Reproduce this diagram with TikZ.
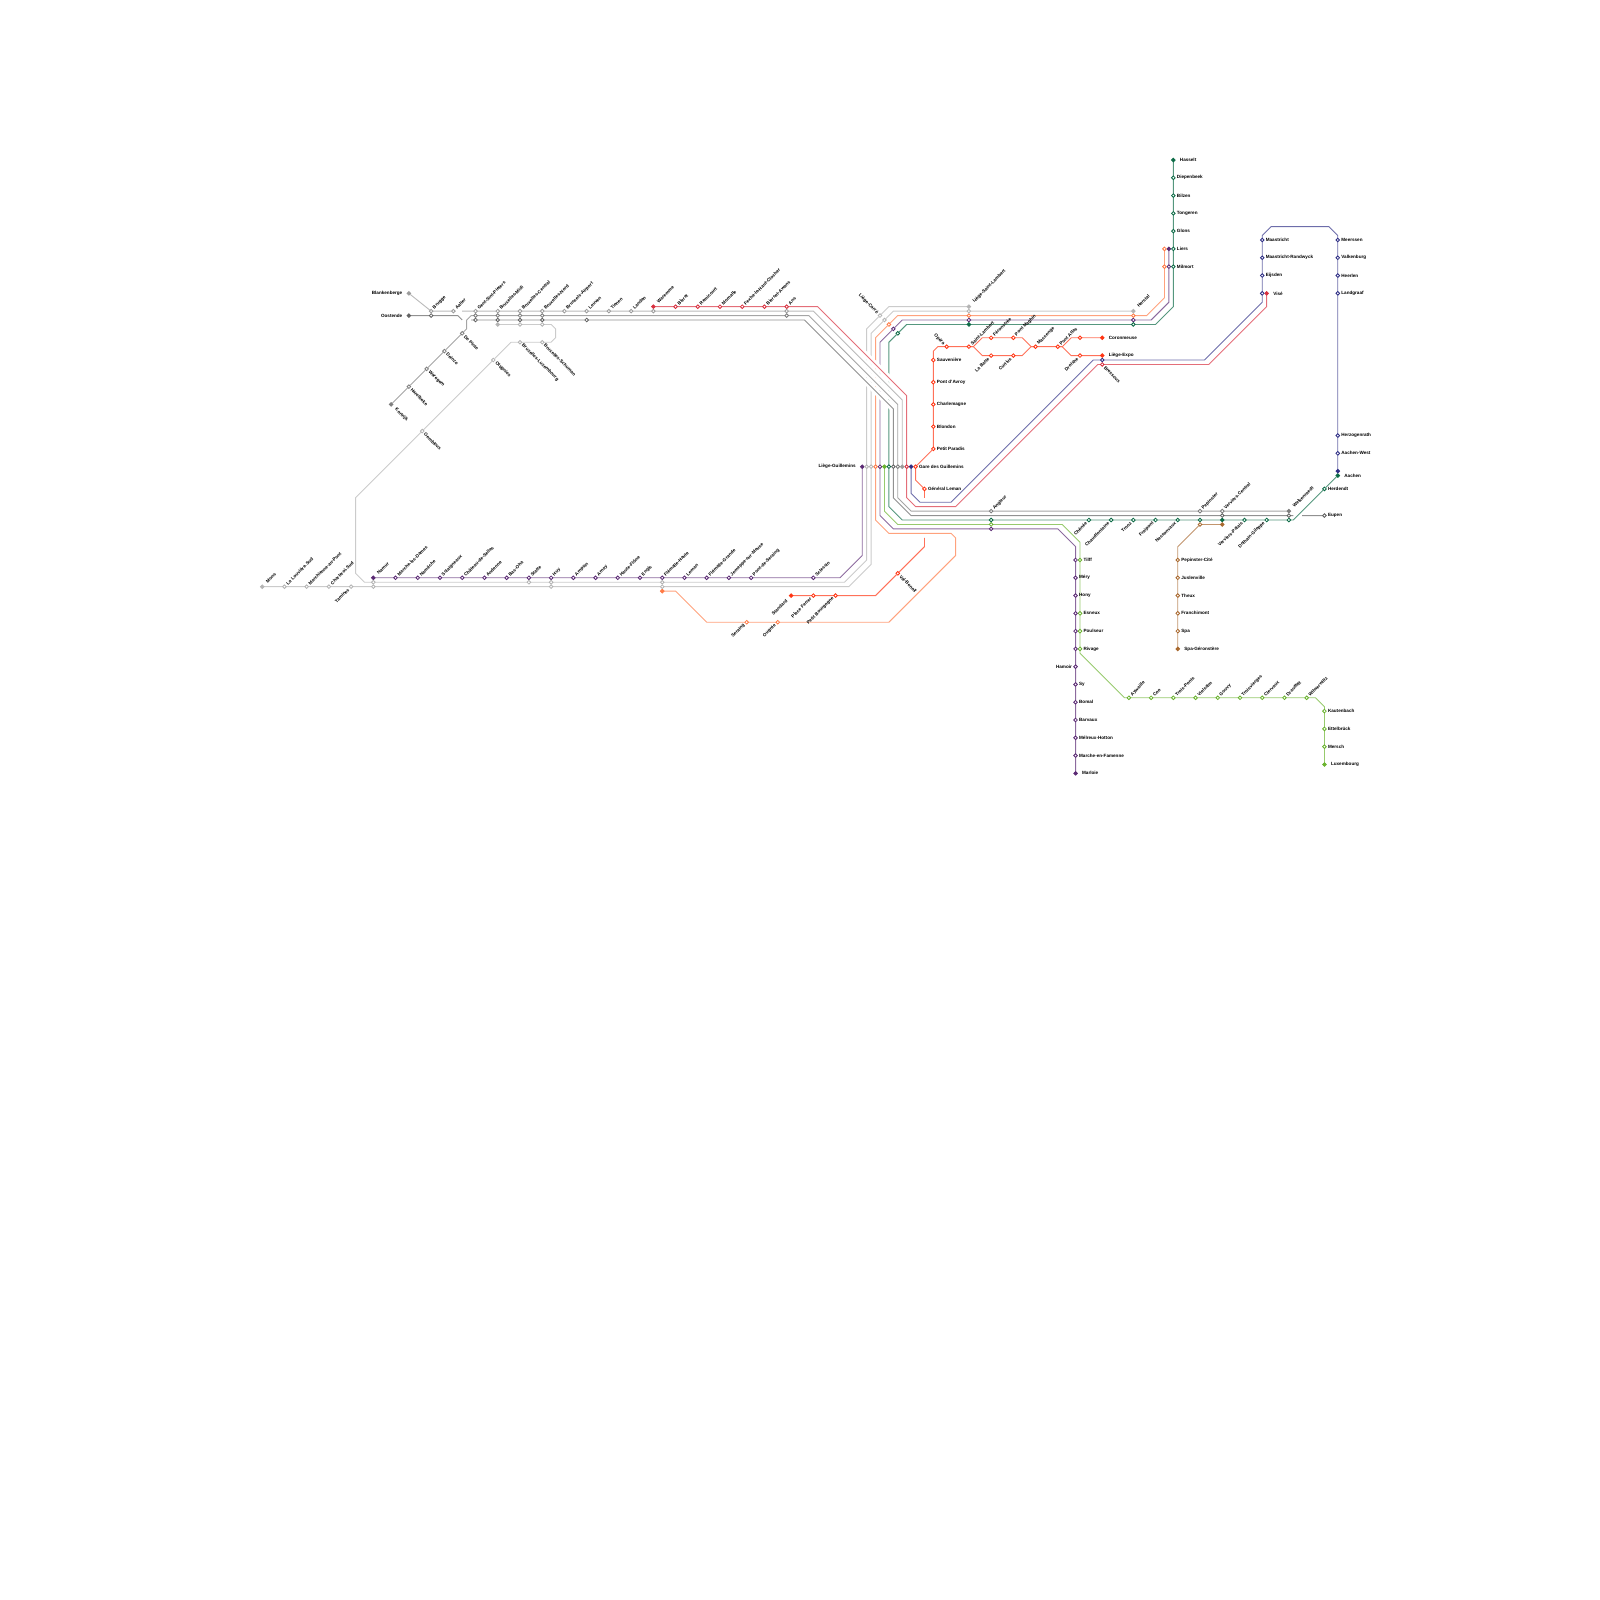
\documentclass[tikz,border=0pt]{standalone}
\usepackage{fontspec}
\setmainfont{Liberation Sans}
\usepackage{xcolor}
\usetikzlibrary{backgrounds}

\definecolor{cPurple}{HTML}{5B2A74}
\definecolor{cOrange}{HTML}{FF7A45}
\definecolor{cGreen}{HTML}{6AB32F}
\definecolor{cTeal}{HTML}{0C6B46}
\definecolor{cRed}{HTML}{D8303F}
\definecolor{cBlue}{HTML}{2F2F85}
\definecolor{cTram}{HTML}{FF3412}
\definecolor{cBrown}{HTML}{A8682E}
\definecolor{cGreyL}{HTML}{B4B4B4}
\definecolor{cGreyA}{HTML}{9C9C9C}
\definecolor{cGreyB}{HTML}{7E7E7E}
\definecolor{cGreyC}{HTML}{626262}

\tikzset{
    stn/.style={circle, inner sep=0pt, outer sep=0pt, minimum size=3.6pt, line width=.85pt,
        fill=white, draw=#1, /utils/exec={\def\stncol{#1}}},
    term/.style={fill=\stncol},
    lbl/.style={font=\fontsize{4.6}{5}\selectfont\bfseries, inner sep=0pt, text=black},
    ne/.style={label={[lbl, rotate=45, anchor=west, xshift=#1]45:\lab}}, ne/.default=1.6pt,
    se/.style={label={[lbl, rotate=-45, anchor=west, xshift=#1]-45:\lab}}, se/.default=1.6pt,
    sw/.style={label={[lbl, rotate=45, anchor=east, xshift=-#1]225:\lab}}, sw/.default=1.6pt,
    nw/.style={label={[lbl, rotate=-45, anchor=east, xshift=-#1]135:\lab}}, nw/.default=1.6pt,
    rt/.style={label={[lbl, anchor=west, xshift=#1]0:\lab}}, rt/.default=1.6pt,
    lf/.style={label={[lbl, anchor=east, xshift=-#1]180:\lab}}, lf/.default=1.6pt,
    nl/.style={},
    fne/.style={term, ne=4.4pt}, fse/.style={term, se=4.4pt}, fsw/.style={term, sw=4.4pt},
    frt/.style={term, rt=4.6pt}, flf/.style={term, lf=4.6pt}, fnl/.style={term},
    ln/.style={line width=.9pt, draw=#1!70},
    halo/.style={line width=6pt, draw=white}
}
\newcommand{\stops}[2]{\foreach \sid/\px/\py/\dir/\lab in {#2} {\node[stn=#1, \dir] (\sid) at (\px,\py) {};}}

\begin{document}
\begin{tikzpicture}[x=4.4444pt, y=-4.4444pt]
    \useasboundingbox (0,0) rectangle (360,360);

    % Stations, line by line
    \stops{cPurple}{guilA/194/105/flf/Liège-Guillemins, namurP/84/130/fne/Namur, damesP/89/130/ne/Marche-les-Dames,
        namecheP/94/130/ne/Namêche, sclaignP/99/130/ne/Sclaigneaux, sellesP/104/130/ne/Château-de-Selles,
        andenneP/109/130/ne/Andenne, bashaP/114/130/ne/Bas-Oha, statteP/119/130/ne/Statte, huyP/124/130/ne/Huy,
        ampsinP/129/130/ne/Ampsin, amayP/134/130/ne/Amay, floneP/139/130/ne/Haute-Flône, engisP/144/130/ne/Engis,
        flemHP/149/130/ne/Flémalle-Haute, lemanP/154/130/ne/Leman, flemGP/159/130/ne/Flémalle-Grande,
        jemeppeP/164/130/ne/Jemeppe-sur-Meuse, pontSerP/169/130/ne/Pont-de-Seraing, sclessinP/183/130/ne/Sclessin,
        liersP/263/56/fnl/-, milmortP/263/60/nl/-, herstalP/255/72/nl/-, lambP/218/72/nl/-, carreP/201/74/nl/-,
        guilE/198/105/nl/-, angleurP/223/119/nl/-, tilffP/242/126/nl/-, meryP/242/130/rt/Méry, honyP/242/134/rt/Hony,
        esneuxP/242/138/nl/-, poulseurP/242/142/nl/-, rivageP/242/146/nl/-, hamoirP/242/150/lf/Hamoir, syP/242/154/rt/Sy,
        bomalP/242/158/rt/Bomal, barvauxP/242/162/rt/Barvaux, melreuxP/242/166/rt/Mélreux-Hotton,
        marcheP/242/170/rt/Marche-en-Famenne, marloieP/242/174/frt/Marloie}
    \stops{cOrange}{liersO/262/56/nl/-, milmortO/262/60/nl/-, herstalO/255/71/nl/-, lambO/218/71/nl/-, carreO/200/73/nl/-,
        guilD/197/105/nl/-, ougreeO/175/140/sw/Ougrée, seraingO/168/140/sw/Seraing, flemHO/149/133/fnl/-}
    \stops{cGreen}{guilF/199/105/fnl/-, angleurV/223/118/nl/-, tilffV/243/126/rt/Tilff, esneuxV/243/138/rt/Esneux,
        poulseurV/243/142/rt/Poulseur, rivageV/243/146/rt/Rivage, aywailleV/254/157/ne/Aywaille, cooV/259/157/ne/Coo,
        pontsV/264/157/ne/Trois-Ponts, salmV/269/157/ne/Vielsalm, gouvyV/274/157/ne/Gouvy,
        viergesV/279/157/ne/Troisvierges, clervauxV/284/157/ne/Clervaux, drauffV/289/157/ne/Drauffelt,
        wilwerV/294/157/ne/Wilwerwiltz, kautenV/298/160/rt/Kautenbach, ettelV/298/164/rt/Ettelbrück,
        merschV/298/168/rt/Mersch, luxV/298/172/frt/Luxembourg}
    \stops{cTeal}{hasseltT/264/36/frt/Hasselt, diepenT/264/40/rt/Diepenbeek, bilzenT/264/44/rt/Bilzen, tongerT/264/48/rt/Tongeren,
        glonsT/264/52/rt/Glons, liersT/264/56/rt/Liers, milmortT/264/60/rt/Milmort, herstalT/255/73/nl/-, lambT/218/73/fnl/-,
        carreT/202/75/nl/-, guilG/200/105/nl/-, angleurT/223/117/nl/-, cheneeT/245/117/sw/Chênée,
        chaudT/250/117/sw/Chaudfontaine, troozT/255/117/sw/Trooz, fraipT/260/117/sw/Fraipont, nessonT/265/117/sw/Nessonvaux,
        pepinT/270/117/nl/-, verviersT/275/117/fnl/-, palaisT/280/117/sw/Verviers-Palais, dolhainT/285/117/sw/Dolhain-Gileppe,
        welkT/290/117/nl/-, herdT/298/110/rt/Herdendt, aachenT/301/107/frt/Aachen}
    \stops{cRed}{waremmeR/147/69/fne/Waremme, bleretR/152/69/ne/Bleret, remiR/157/69/ne/Remicourt, momalleR/162/69/ne/Momalle,
        fexheR/167/69/ne/Fexhe-le-Haut-Clocher, biersetR/172/69/ne/Bierset-Awans, ansR/177/69/ne/Ans, guilH/204/105/nl/-,
        bressouxR/248/82/se/Bressoux, viseR/285/66/frt/Visé}
    \stops{cBlue}{guilL/205/105/fnl/-, bressouxB/248/81/nl/-, viseB/284/66/nl/-, eijsdenB/284/62/rt/Eijsden,
        randwB/284/58/rt/Maastricht-Randwyck, maastrB/284/54/rt/Maastricht, meersB/301/54/rt/Meerssen,
        valkB/301/58/rt/Valkenburg, heerlB/301/62/rt/Heerlen, landgB/301/66/rt/Landgraaf, herzoB/301/98/rt/Herzogenrath,
        aachWB/301/102/rt/Aachen-West, aachenB/301/106/fnl/-}
    \stops{cTram}{guilM/206/105/rt/Gare des Guillemins, genLeman/208/110/rt/Général Leman, paradis/210/101/rt/Petit Paradis,
        blondon/210/96/rt/Blondon, charlem/210/91/rt/Charlemagne, avroy/210/86/rt/Pont d'Avroy, sauven/210/81/rt/Sauvenière,
        opera/213/78/nw/Opéra, tramLamb/218/78/ne/Saint-Lambert, feron/223/76/ne/Féronstrée, maghin/228/76/ne/Pont Maghin,
        batte/223/80/sw/La Batte, curtius/228/80/sw/Curtius, massenge/233/78/ne/Massenge, atlas/238/78/ne/Pont Atlas,
        atlasUp/243/76/nl/-, coron/248/76/frt/Coronmeuse, droixhe/243/80/sw/Droixhe, expo/248/80/frt/Liège-Expo,
        standard/178/134/fsw/Standard, ferrer/183/134/sw/Place Ferrer, bourg/188/134/sw/Petit Bourgogne,
        valben/202/129/se/Val-Benoît}
    \stops{cBrown}{verviersM/275/118/fnl/-, pepinM/270/118/nl/-, citeM/265/126/rt/Pepinster-Cité, juslenM/265/130/rt/Juslenville,
        theuxM/265/134/rt/Theux, franchM/265/138/rt/Franchimont, spaM/265/142/rt/Spa, geronM/265/146/frt/Spa-Géronstère}
    \stops{cGreyA}{blanken/92/66/flf/Blankenberge, bruggeA/97/70/ne/Brugge, aalterA/102/70/ne/Aalter, gentA/107/70/ne/Gent-Sint-Pieters,
        midiA/112/70/ne/Bruxelles-Midi, centralA/117/70/ne/Bruxelles-Central, nordA/122/70/ne/Bruxelles-Nord,
        airportA/127/70/ne/Brussels-Airport, leuvenA/132/70/ne/Leuven, tienenA/137/70/ne/Tienen, landenA/142/70/ne/Landen,
        waremmeA/147/70/nl/-, ansA/177/70/nl/-, guilK/203/105/fnl/-}
    \stops{cGreyB}{kortrijk/88/91/fse/Kortrijk, harelbeke/92/87/se/Harelbeke, waregem/96/83/se/Waregem, deinze/100/79/se/Deinze,
        depinte/104/75/se/De Pinte, gentB/107/71/nl/-, midiB/112/71/nl/-, centralB/117/71/nl/-, nordB/122/71/nl/-, ansB/177/71/nl/-,
        guilJ/202/105/nl/-, angleurB/223/115/ne/Angleur, pepinB/270/115/ne/Pepinster, verviersB/275/115/ne/Verviers-Central,
        welkB/290/115/fne/Welkenraedt}
    \stops{cGreyC}{oostende/92/71/flf/Oostende, bruggeC/97/71/nl/-, gentC/107/72/nl/-, midiC/112/72/nl/-, centralC/117/72/nl/-,
        nordC/122/72/nl/-, leuvenC/132/72/nl/-, guilI/201/105/nl/-, verviersC/275/116/nl/-, welkC/290/116/nl/-, eupen/298/116/rt/Eupen}
    \stops{cGreyL}{midiL/112/73/fnl/-, centralL/117/73/nl/-, nordL/122/73/nl/-, schuman/122/77/se/Bruxelles-Schuman,
        luxbg/117/77/se/Bruxelles-Luxembourg, ottignies/111/81/se/Ottignies, gembloux/95/97/se/Gembloux,
        namurL/84/131/nl/-, statteL/119/131/nl/-, huyL/124/131/nl/-, flemHL/149/131/nl/-, guilB/195/105/nl/-,
        carreL/198/71/nw/Liège-Carré, lambL/218/69/fne/Liège-Saint-Lambert,
        mons/59/132/fne/Mons, louviere/64/132/ne/La Louvière-Sud, marchienne/69/132/ne/Marchienne-au-Pont,
        charleroi/74/132/ne/Charleroi-Sud, tamines/79/132/sw/Tamines, namurM/84/132/nl/-, huyM/124/132/nl/-,
        flemHM/149/132/nl/-, guilC/196/105/nl/-, carreM/199/72/nl/-, lambM/218/70/nl/-, herstalM/255/70/fne/Herstal}
    \coordinate (lemanEnd) at (208,112);
    \coordinate (valEnd) at (208,121);

    \begin{pgfonlayer}{background}
        % Lines under the long diagonal
        \draw[ln=cPurple] (guilA) -- (194,125) -- (189,130) -- (sclessinP) -- (pontSerP) -- (jemeppeP) -- (flemGP) -- (lemanP) -- (flemHP) -- (engisP)
            -- (floneP) -- (amayP) -- (ampsinP) -- (huyP) -- (statteP) -- (bashaP) -- (andenneP) -- (sellesP) -- (sclaignP) -- (namecheP) -- (damesP) -- (namurP);
        \draw[ln=cGreyL] (midiL) -- (centralL) -- (nordL) -- (124,73) -- (125,74) -- (125,76) -- (124,77) -- (schuman) -- (luxbg) -- (115,77)
            -- (ottignies) -- (gembloux) -- (80,112) -- (80,129) -- (82,131) -- (namurL) -- (statteL) -- (huyL) -- (flemHL) -- (190,131) -- (195,126)
            -- (guilB) -- (195,74) -- (carreL) -- (200,69) -- (lambL);
        \draw[ln=cGreyL] (mons) -- (louviere) -- (marchienne) -- (charleroi) -- (tamines) -- (namurM) -- (huyM) -- (flemHM) -- (191,132) -- (196,127)
            -- (guilC) -- (196,75) -- (carreM) -- (201,70) -- (lambM) -- (herstalM);
        \draw[ln=cOrange] (liersO) -- (milmortO) -- (262,67) -- (258,71) -- (herstalO) -- (lambO) -- (202,71) -- (carreO) -- (197,76) -- (guilD)
            -- (197,117) -- (200,120) -- (214,120) -- (215,121) -- (215,125) -- (200,140) -- (ougreeO) -- (seraingO) -- (159,140) -- (152,133) -- (flemHO);
        \draw[ln=cPurple] (liersP) -- (milmortP) -- (263,68) -- (259,72) -- (herstalP) -- (lambP) -- (203,72) -- (carreP) -- (198,77) -- (guilE)
            -- (198,116) -- (201,119) -- (angleurP) -- (238,119) -- (242,123) -- (tilffP) -- (meryP) -- (honyP) -- (esneuxP) -- (poulseurP) -- (rivageP)
            -- (hamoirP) -- (syP) -- (bomalP) -- (barvauxP) -- (melreuxP) -- (marcheP) -- (marloieP);
        \draw[ln=cGreen] (guilF) -- (199,115) -- (202,118) -- (angleurV) -- (239,118) -- (243,122) -- (tilffV) -- (esneuxV) -- (poulseurV) -- (rivageV)
            -- (243,147) -- (253,157) -- (aywailleV) -- (cooV) -- (pontsV) -- (salmV) -- (gouvyV) -- (viergesV) -- (clervauxV) -- (drauffV) -- (wilwerV)
            -- (296,157) -- (298,159) -- (kautenV) -- (ettelV) -- (merschV) -- (luxV);
        \draw[ln=cTeal] (hasseltT) -- (diepenT) -- (bilzenT) -- (tongerT) -- (glonsT) -- (liersT) -- (milmortT) -- (264,69) -- (260,73) -- (herstalT) -- (lambT)
            -- (204,73) -- (carreT) -- (200,77) -- (guilG) -- (200,114) -- (203,117) -- (angleurT) -- (cheneeT) -- (chaudT) -- (troozT) -- (fraipT) -- (nessonT)
            -- (pepinT) -- (verviersT) -- (palaisT) -- (dolhainT) -- (welkT) -- (291,117) -- (herdT) -- (aachenT);

        % Long diagonal: white gap over the lines above, then its four lines
        \foreach \ax/\ay/\bx/\by in {184/69/204/89, 183/70/203/90, 182/71/202/91, 181/72/201/92}
            \draw[halo] (\ax,\ay) -- (\bx,\by);
        \draw[ln=cRed] (waremmeR) -- (bleretR) -- (remiR) -- (momalleR) -- (fexheR) -- (biersetR) -- (ansR) -- (184,69) -- (204,89) -- (guilH) -- (204,112)
            -- (206,114) -- (215,114) -- (247,82) -- (bressouxR) -- (272,82) -- (285,69) -- (viseR);
        \draw[ln=cGreyA] (blanken) -- (bruggeA) -- (aalterA) -- (102.5,70) (104,70) -- (gentA) -- (midiA) -- (centralA) -- (nordA) -- (airportA) -- (leuvenA)
            -- (tienenA) -- (landenA) -- (waremmeA) -- (ansA) -- (183,70) -- (203,90) -- (guilK);
        \draw[ln=cGreyB] (kortrijk) -- (harelbeke) -- (waregem) -- (deinze) -- (depinte) -- (105,74) -- (105,72) -- (106,71) -- (gentB) -- (midiB) -- (centralB)
            -- (nordB) -- (ansB) -- (182,71) -- (202,91) -- (guilJ) -- (202,112) -- (205,115) -- (angleurB) -- (pepinB) -- (verviersB) -- (welkB);
        \draw[ln=cGreyC] (oostende) -- (bruggeC) -- (103,71) -- (104,72) (106,72) -- (gentC) -- (midiC) -- (centralC) -- (nordC) -- (leuvenC) -- (181,72)
            -- (201,92) -- (guilI) -- (201,112) -- (205,116) -- (verviersC) -- (welkC) -- (291,116) (293,116) -- (eupen);

        % Remaining lines
        \draw[ln=cBlue] (guilL) -- (205,111) -- (207,113) -- (214,113) -- (246,81) -- (bressouxB) -- (271,81) -- (284,68) -- (viseB) -- (eijsdenB) -- (randwB)
            -- (maastrB) -- (284,53) -- (286,51) -- (299,51) -- (301,53) -- (meersB) -- (valkB) -- (heerlB) -- (landgB) -- (herzoB) -- (aachWB) -- (aachenB);
        \draw[ln=cBrown] (verviersM) -- (pepinM) -- (265,123) -- (citeM) -- (juslenM) -- (theuxM) -- (franchM) -- (spaM) -- (geronM);
        \draw[ln=cTram] (lemanEnd) -- (genLeman) -- (206,108) -- (guilM) -- (paradis) -- (blondon) -- (charlem) -- (avroy) -- (sauven) -- (210,79) -- (211,78)
            -- (opera) -- (tramLamb) -- (219,78) -- (221,76) -- (feron) -- (maghin) -- (230,76) -- (232,78) -- (massenge) -- (atlas) -- (239,78) -- (241,76) -- (atlasUp) -- (coron);
        \draw[ln=cTram] (tramLamb) -- (219,78) -- (221,80) -- (batte) -- (curtius) -- (230,80) -- (232,78) -- (massenge);
        \draw[ln=cTram] (atlas) -- (239,78) -- (241,80) -- (droixhe) -- (expo);
        \draw[ln=cTram] (standard) -- (ferrer) -- (bourg) -- (197,134) -- (valben) -- (208,123) -- (valEnd);
    \end{pgfonlayer}
\end{tikzpicture}
\end{document}
